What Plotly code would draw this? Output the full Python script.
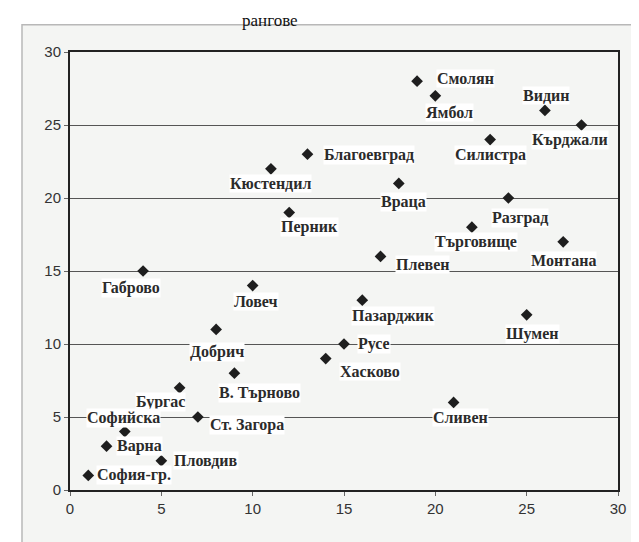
import plotly.graph_objects as go

names = ["Смолян", "Ямбол", "Видин", "Кърджали", "Силистра", "Благоевград", "Кюстендил",
         "Враца", "Разград", "Перник", "Търговище", "Монтана", "Плевен", "Габрово",
         "Ловеч", "Пазарджик", "Шумен", "Добрич", "Русе", "Хасково", "В. Търново",
         "Бургас", "Ст. Загора", "Сливен", "Софийска", "Варна", "Пловдив", "София-гр."]
x_rank = [19, 20, 26, 28, 23, 13, 11, 18, 24, 12, 22, 27, 17, 4,
          10, 16, 25, 8, 15, 14, 9, 6, 7, 21, 3, 2, 5, 1]
y_rank = [28, 27, 26, 25, 24, 23, 22, 21, 20, 19, 18, 17, 16, 15,
          14, 13, 12, 11, 10, 9, 8, 7, 5, 6, 4, 3, 2, 1]
x_ticks = [0, 5, 10, 15, 20, 25, 30]
y_ticks = [0, 5, 10, 15, 20, 25, 30]

# label offsets in pixels (style only)
label_shift = [(48, 3), (14, -17), (1, 15), (-11, -15), (0, -15), (62, -1), (0, -15),
               (5, -19), (12, -20), (20, -14), (4, -15), (0, -19), (42, -8), (-12, -17),
               (3, -16), (31, -16), (6, -19), (1, -23), (30, 0), (44, -13), (25, -20),
               (-19, -14), (49, -8), (7, -15), (-1, 14), (33, 0), (45, 0), (46, 0)]

fig = go.Figure()

ann = []
for n, xv, yv, (dx, dy) in zip(names, x_rank, y_rank, label_shift):
    ann.append(dict(x=xv, y=yv, text="<b>" + n + "</b>", showarrow=False, xshift=dx, yshift=dy,
                    xanchor="center", yanchor="middle",
                    font=dict(family="Liberation Serif", size=16, color="#2b2b2b"),
                    bgcolor="#ffffff", borderpad=0))
ann.append(dict(x=(270 - 70) / 548, y=1.099, xref="paper", yref="paper",
                text="рангове", showarrow=False,
                font=dict(family="Liberation Serif", size=17, color="#111"),
                yanchor="top"))

fig.add_trace(go.Scatter(
    x=x_rank, y=y_rank, mode="markers",
    marker=dict(symbol="diamond", size=9, color="#1e1e1e"),
    hovertext=names, showlegend=False,
))

fig.update_layout(
    width=631, height=534,
    margin=dict(l=62, r=21, t=44, b=52),
    paper_bgcolor="#ffffff",
    plot_bgcolor="#f4f5f3",
    annotations=ann,
    shapes=[dict(type="rect", xref="paper", yref="paper", x0=-0.0876, x1=1.06,
                 y0=-0.16, y1=1.062, line=dict(color="#b8b8b8", width=1.5),
                 fillcolor="#f4f5f3", layer="below")],
    xaxis=dict(range=[0, 30], tickvals=x_ticks, showgrid=False, zeroline=False,
               showline=True, linecolor="#222", linewidth=2, mirror=True,
               ticks="outside", ticklen=4, tickcolor="#666",
               tickfont=dict(family="Liberation Sans", size=15, color="#333")),
    yaxis=dict(range=[0, 30], tickvals=y_ticks, showgrid=True, gridcolor="#555",
               gridwidth=1, zeroline=False,
               showline=True, linecolor="#222", linewidth=2, mirror=True,
               ticks="outside", ticklen=4, tickcolor="#666",
               tickfont=dict(family="Liberation Sans", size=15, color="#333")),
)

fig.write_html("out.html")
